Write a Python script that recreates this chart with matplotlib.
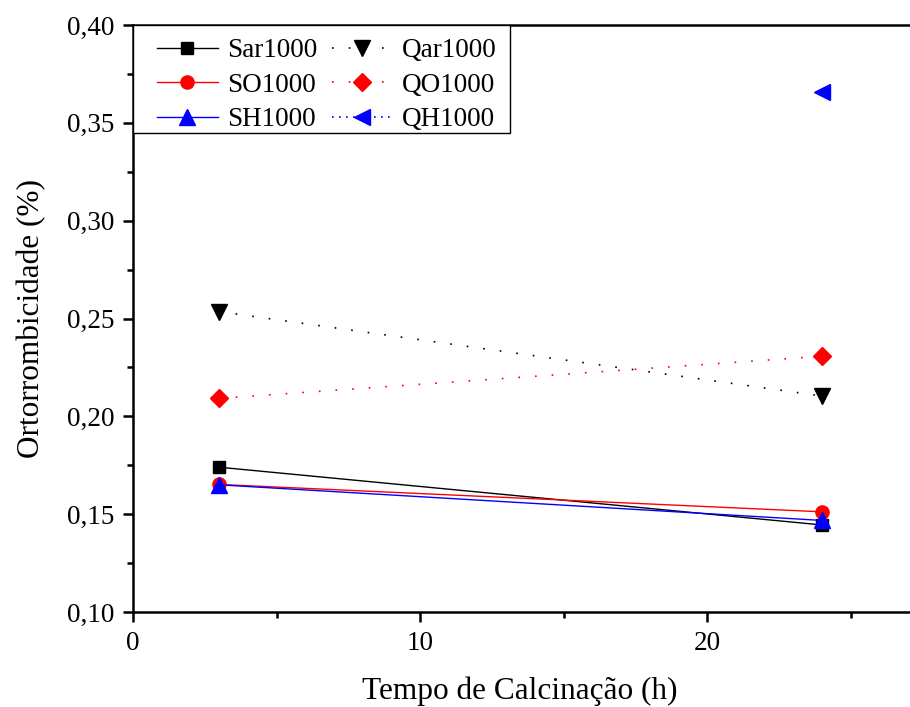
import matplotlib
matplotlib.use("Agg")
import matplotlib.pyplot as plt
from matplotlib.ticker import MultipleLocator, FuncFormatter
from matplotlib.patches import Rectangle

plt.rcParams['font.family'] = ['Liberation Serif', 'DejaVu Serif']
plt.rcParams['mathtext.fontset'] = 'stix'

x_s = [3, 24]
sar1000 = [0.174, 0.1445]
so1000 = [0.1652, 0.1512]
sh1000 = [0.165, 0.1468]
qar1000 = [0.2535, 0.2104]
qo1000 = [0.2092, 0.2307]
x_qh = [24]
qh1000 = [0.3658]

fig = plt.figure(figsize=(9.1, 7.07), dpi=100)
right_px = 916
W = right_px - 133
H = 612 - 25
ax = fig.add_axes([133/910, 1-612/707, W/910, H/707])

ax.plot(x_s, sar1000, '-', color='black', lw=1, marker='s', ms=9, label='Sar1000')
ax.plot(x_s, so1000, '-', color='red', lw=1, marker='o', ms=9.5, label='SO1000')
ax.plot(x_s, sh1000, '-', color='blue', lw=1, marker='^', ms=12, label='SH1000')
ax.plot(x_s, qar1000, linestyle=(0, (1, 9)), color='black', lw=1.2, marker='v', ms=12, label='Qar1000')
ax.plot(x_s, qo1000, linestyle=(0, (1, 9)), color='red', lw=1.2, marker='D', ms=9, label='QO1000')
ax.plot(x_qh, qh1000, linestyle=(0, (1, 3.2)), color='blue', lw=1.2, marker='<', ms=12, label='QH1000')

ax.set_xlim(0, W/28.7)
ax.set_ylim(0.10, 0.40)
ax.xaxis.set_major_locator(MultipleLocator(10))
ax.xaxis.set_minor_locator(MultipleLocator(5))
ax.yaxis.set_major_locator(MultipleLocator(0.05))
ax.yaxis.set_minor_locator(MultipleLocator(0.025))
ax.yaxis.set_major_formatter(FuncFormatter(lambda v, p: f"{v:.2f}".replace('.', ',')))
ax.tick_params(axis='both', which='major', direction='out', length=7.5, width=1.8, labelsize=19.5)
ax.tick_params(axis='y', which='major', pad=6)
ax.tick_params(axis='x', which='major', pad=6)
ax.tick_params(axis='both', which='minor', direction='out', length=4, width=1.8)
for s in ax.spines.values():
    s.set_linewidth(1.8)

ax.set_xlabel('Tempo de Calcinação (h)', fontsize=22.5)
ax.set_ylabel('Ortorrombicidade (%)', fontsize=22.5)
ax.xaxis.set_label_coords((520-133)/W, -(677-612)/H, transform=ax.transAxes)
ax.yaxis.set_label_coords(-(133-46)/W, 0.5, transform=ax.transAxes)

# legend frame
ax.add_patch(Rectangle((0, 1 - 108/H), (510-133)/W, 108/H, transform=ax.transAxes,
                       facecolor='white', edgecolor='black', lw=1.0, zorder=4))
leg = ax.legend(loc='upper left', bbox_to_anchor=((157-133)/W, 1 - (38-25)/H), ncol=2,
                fontsize=19.5, frameon=False, handlelength=2.25, borderaxespad=0,
                columnspacing=0.55, handletextpad=0.33, labelspacing=0.36, borderpad=0)
leg.set_zorder(5)

fig.savefig('out.png', dpi=100)
